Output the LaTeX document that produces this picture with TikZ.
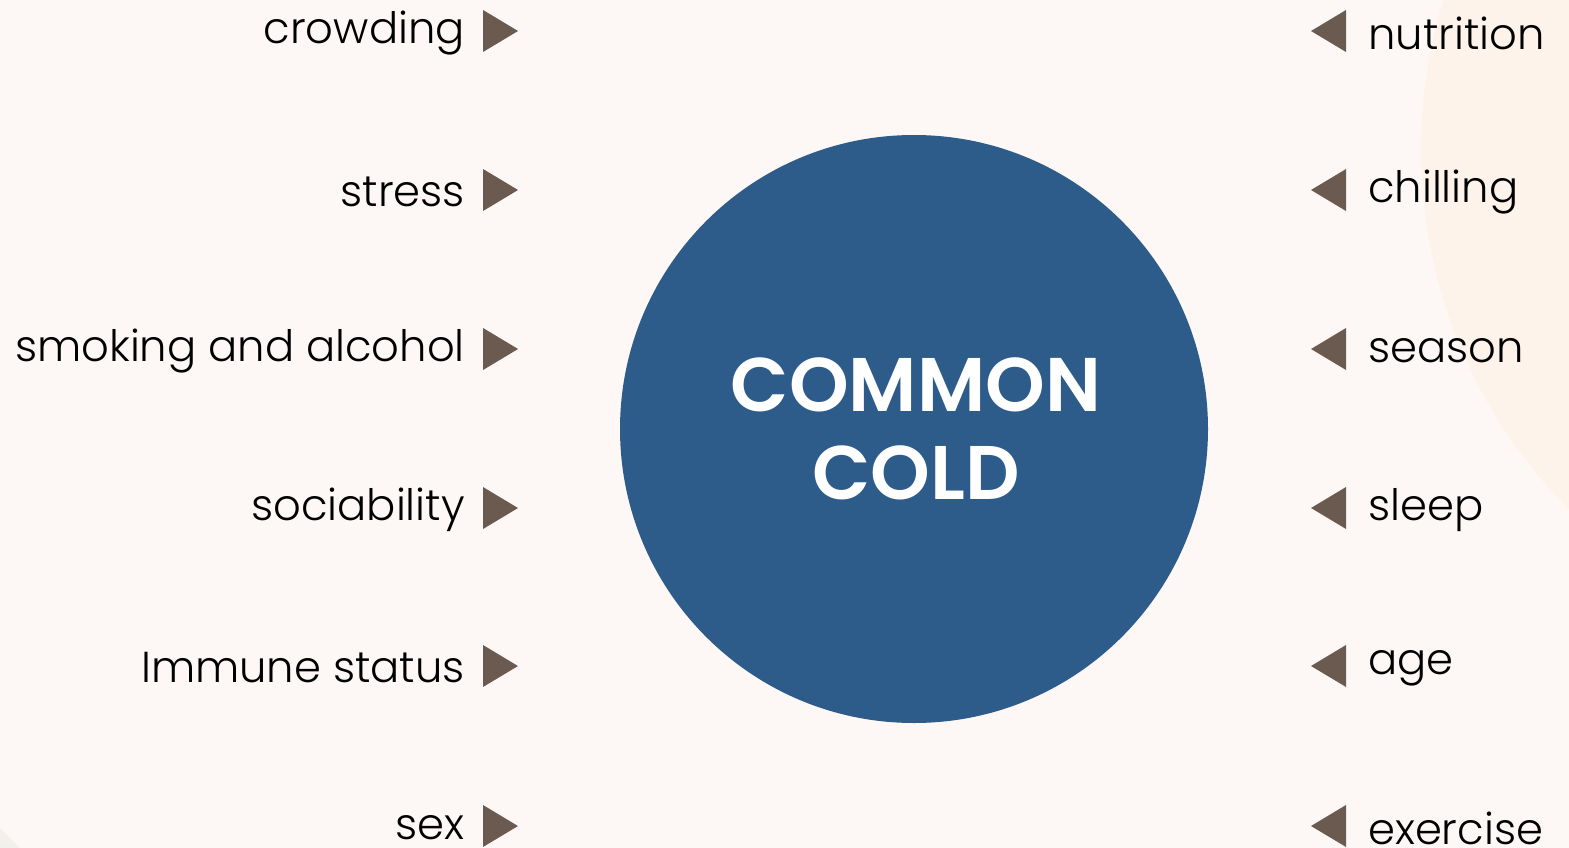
\documentclass[tikz,border=0pt]{standalone}
\usepackage{fontspec}
\setmainfont{Poppins}[UprightFont=* Light, BoldFont=* SemiBold]
\definecolor{paper}{HTML}{FDF8F5}
\definecolor{peach}{HTML}{FEF3EA}
\definecolor{stone}{HTML}{F3F0EB}
\definecolor{coldblue}{HTML}{2E5C8A}
\definecolor{pointer}{HTML}{6B5A50}
\begin{document}
\begin{tikzpicture}[x=1pt,y=-1pt,
  label/.style={font=\fontsize{43.3}{50}\selectfont, text=black, inner sep=0pt},
  tipR/.style={pointer, fill},
  tipL/.style={pointer, fill}]
% canvas
\fill[paper] (0,0) rectangle (1569,848);
\useasboundingbox (0,0) rectangle (1569,848);
% soft background blobs
\begin{scope}
\clip (0,0) rectangle (1569,848);
\fill[peach] (1932,150) circle[radius=511];
\fill[stone] (-300,1150) circle[radius=440];
\end{scope}
% central circle
\node[circle, fill=coldblue, minimum size=588, inner sep=0pt] (cold) at (914,429) {};
\node[text=white, align=center, font=\bfseries\fontsize{76}{88}\selectfont] (title) at (916,429) {COMMON\\COLD};
% factor rows
\foreach \y/\l/\r [count=\i] in {31/crowding/nutrition, 190/stress/chilling, 349/smoking and alcohol/season, 508/sociability/sleep, 666/Immune status/age, 826/sex/exercise}{
  \node[label, anchor=east] (L\i) at (465,\y+2) {\l};
  \fill[tipR] (483,\y-21) -- (518,\y) -- (483,\y+21) -- cycle;
  \fill[tipL] (1346,\y-21) -- (1311,\y) -- (1346,\y+21) -- cycle;
  \node[label, anchor=west] (R\i) at (1368,\y+2) {\r};
}
\end{tikzpicture}
\end{document}
